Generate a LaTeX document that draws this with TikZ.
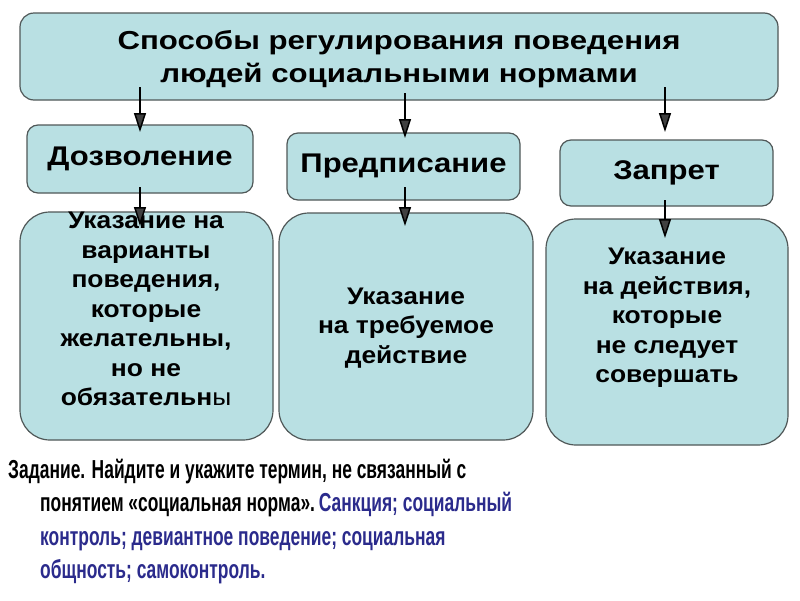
\documentclass[tikz,border=0pt]{standalone}
\usepackage{fontspec}
\setmainfont{Liberation Sans}
\usetikzlibrary{arrows.meta}
\definecolor{boxfill}{HTML}{B9E0E3}
\definecolor{boxline}{HTML}{505858}
\definecolor{taskblue}{HTML}{2B2B8C}
\begin{document}
\begin{tikzpicture}[x=1pt,y=-1pt,
  box/.style={draw=boxline, line width=1.2pt, fill=boxfill, inner sep=0pt, align=center, font=\bfseries},
  arr/.style={line width=1.8pt, -{Triangle[length=19pt, width=12pt, fill=black!75, line width=1.5pt]}},
  ]
\useasboundingbox (0,0) rectangle (800,600);
\fill[white] (0,0) rectangle (800,600);
% top box
\node[box, rounded corners=14pt, minimum width=758pt, minimum height=87pt] (top) at (399,56.5) {};
\node[align=center, inner sep=0pt,
  font=\addfontfeature{FakeStretch=1.2}\bfseries\fontsize{26}{33}\selectfont] (toptext) at (399,59.5)
  {Способы регулирования поведения\\людей социальными нормами};
% middle row
\node[box, rounded corners=11pt, minimum width=226pt, minimum height=68pt,
  font=\addfontfeature{FakeStretch=1.15}\bfseries\fontsize{27}{32}\selectfont] (doz) at (140,159) {Дозволение};
\node[box, rounded corners=11pt, minimum width=233pt, minimum height=67pt,
  font=\addfontfeature{FakeStretch=1.15}\bfseries\fontsize{27}{32}\selectfont] (pred) at (403.5,166.5) {Предписание};
\node[box, rounded corners=11pt, minimum width=213pt, minimum height=66pt,
  font=\addfontfeature{FakeStretch=1.15}\bfseries\fontsize{27}{32}\selectfont] (zap) at (666.5,173) {Запрет};
% bottom row
\node[box, rounded corners=30pt, minimum width=253pt, minimum height=228pt] (b1) at (146.5,326) {};
\node[box, rounded corners=30pt, minimum width=254pt, minimum height=227pt] (b2) at (406,326.5) {};
\node[box, rounded corners=30pt, minimum width=242pt, minimum height=226pt] (b3) at (667,332) {};
\tikzset{btext/.style={align=center, inner sep=0pt,
  font=\addfontfeature{FakeStretch=1.1}\bfseries\fontsize{24}{29.5}\selectfont}}
\node[btext] (t1) at (146,309)
  {Указание на\\варианты\\поведения,\\которые\\желательны,\\но не\\обязательн{\mdseries ы}};
\node[btext] (t2) at (406,328)
  {Указание\\на требуемое\\действие};
\node[btext] (t3) at (667,318)
  {Указание\\на действия,\\которые\\не следует\\совершать};
% arrows
\coordinate (a1s) at (140,87);  \coordinate (a1e) at (140,132);
\coordinate (a2s) at (405,93);  \coordinate (a2e) at (405,138);
\coordinate (a3s) at (665,87);  \coordinate (a3e) at (665,132);
\coordinate (c1s) at (140,187); \coordinate (c1e) at (140,226);
\coordinate (c2s) at (405,187); \coordinate (c2e) at (405,226);
\coordinate (c3s) at (665,200); \coordinate (c3e) at (665,238);
\draw[arr] (a1s) -- (a1e);
\draw[arr] (a2s) -- (a2e);
\draw[arr] (a3s) -- (a3e);
\draw[arr] (c1s) -- (c1e);
\draw[arr] (c2s) -- (c2e);
\draw[arr] (c3s) -- (c3e);
% task text
\node[anchor=north west, align=left, inner sep=0pt,
  font=\addfontfeature{FakeStretch=0.67}\bfseries\fontsize{26}{33.3}\selectfont] (task) at (8,459)
  {Задание. Найдите и укажите термин, не связанный с\\
   \hspace*{32pt}понятием «социальная норма».\hspace{0.15em}\textcolor{taskblue}{Санкция; социальный}\\
   \hspace*{32pt}\textcolor{taskblue}{контроль; девиантное поведение; социальная}\\
   \hspace*{32pt}\textcolor{taskblue}{общность; самоконтроль.}};
\end{tikzpicture}
\end{document}
